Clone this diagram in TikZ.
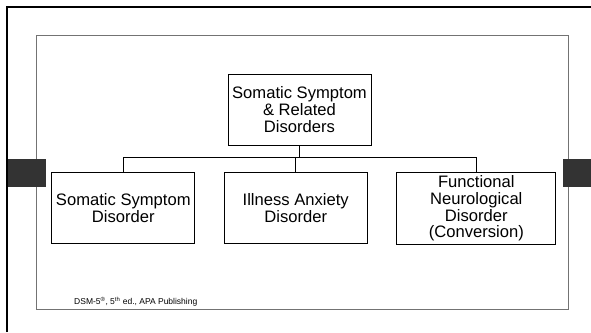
\documentclass[tikz,border=0pt]{standalone}
\usepackage{fontspec}
\setmainfont{Liberation Sans}
\begin{document}
\begin{tikzpicture}[x=1pt,y=-1pt,
  catbox/.style={draw=black,line width=0.8pt,fill=white,align=center,
    font=\fontsize{16.6}{16.8}\selectfont,inner sep=0pt},
  link/.style={draw=black,line width=0.8pt},
  tab/.style={fill=black!80,draw=none}]
  % page area
  \useasboundingbox (0,0) rectangle (591,332);
  \fill[white] (0,0) rectangle (591,332);
  % slide frame: top and left rules
  \draw[line width=2pt] (7,332) -- (7,7) -- (591,7);
  % content border
  \draw[black!55,line width=1pt] (36,35) rectangle (568,309);
  % side tabs
  \fill[tab] (8,159) rectangle (46,187);
  \fill[tab] (563,159) rectangle (591,187);
  % category boxes
  \node[catbox,minimum width=143pt,minimum height=71pt] (top) at (299.5,109.5)
    {Somatic Symptom\\\&\ Related\\Disorders};
  \node[catbox,minimum width=143pt,minimum height=71pt] (ssd) at (123.3,207.7)
    {Somatic Symptom\\Disorder};
  \node[catbox,minimum width=143pt,minimum height=71pt] (iad) at (295.7,207.7)
    {Illness Anxiety\\Disorder};
  \node[catbox,minimum width=159pt,minimum height=72pt] (fnd) at (476.3,208.5)
    {Functional\\Neurological\\Disorder\\(Conversion)};
  % tree connectors
  \coordinate (bar) at (299.5,157.5);
  \draw[link] (top.south) -- (bar);
  \draw[link] (ssd.north) -- (ssd.north |- bar) -- (fnd.north |- bar) -- (fnd.north);
  \draw[link] (iad.north) -- (iad.north |- bar);
  % source note
  \node[anchor=west,inner sep=0pt,font=\fontsize{8.5}{10}\selectfont] (src) at (74,301.5)
    {DSM-5\textsuperscript{\textregistered}, 5\textsuperscript{th} ed., APA Publishing};
\end{tikzpicture}
\end{document}
